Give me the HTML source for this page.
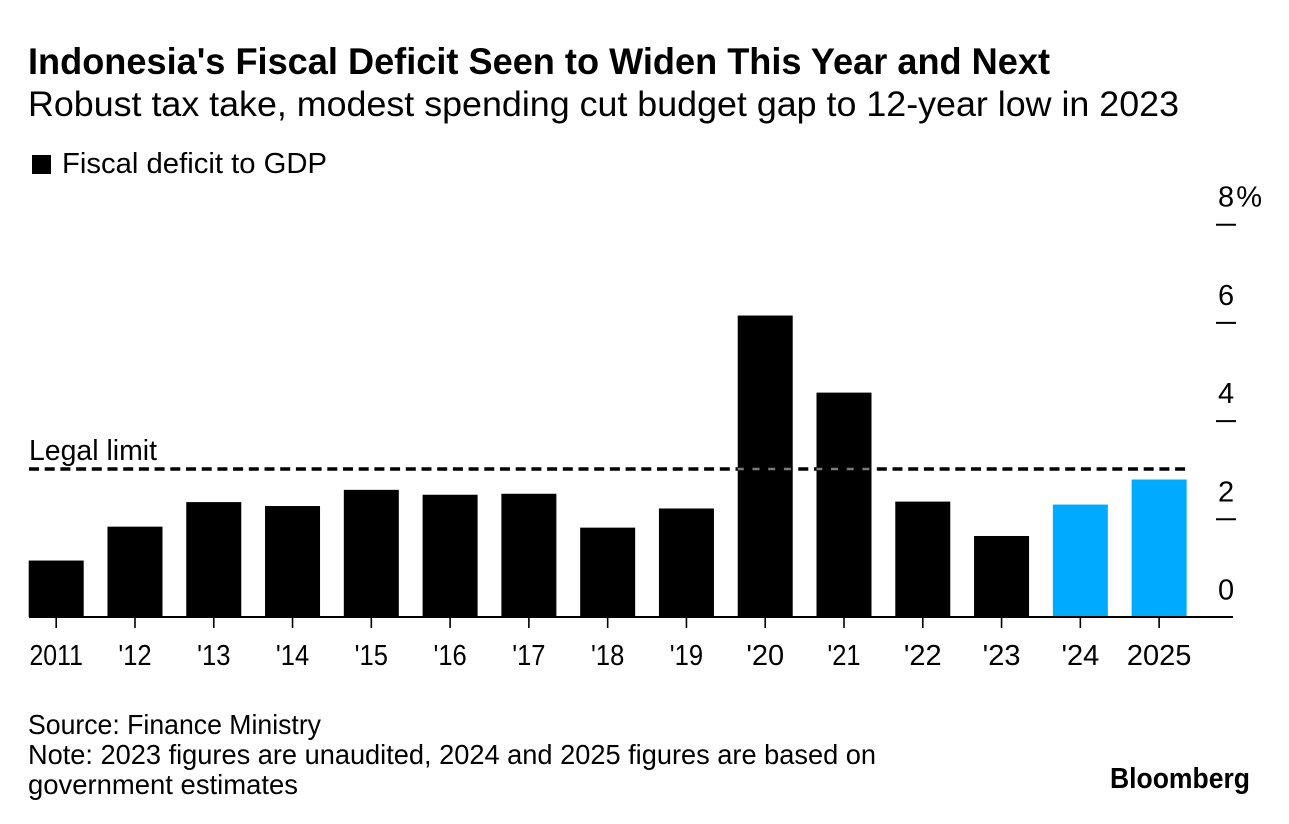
<!DOCTYPE html>
<html lang="en">
<head>
<meta charset="utf-8">
<title>Indonesia's Fiscal Deficit Seen to Widen This Year and Next</title>
<style>
html,body{margin:0;padding:0;background:#fff;}
body{width:1289px;height:824px;overflow:hidden;}
svg{display:block;}
text{font-family:"Liberation Sans",sans-serif;fill:#000;}
</style>
</head>
<body>
<svg id="chart" xmlns="http://www.w3.org/2000/svg" width="1289" height="824" viewBox="0 0 1289 824">
  <rect x="0" y="0" width="1289" height="824" fill="#fff"/>
  <text x="28" y="74" font-size="37" font-weight="700" textLength="1022" lengthAdjust="spacingAndGlyphs">Indonesia's Fiscal Deficit Seen to Widen This Year and Next</text>
  <text x="28" y="116" font-size="35" textLength="1151" lengthAdjust="spacingAndGlyphs">Robust tax take, modest spending cut budget gap to 12-year low in 2023</text>
  <rect x="32" y="155" width="19" height="19" fill="#000"/>
  <text x="62" y="173" font-size="28.5" textLength="265" lengthAdjust="spacingAndGlyphs">Fiscal deficit to GDP</text>
  <g id="bars"></g>
  <g id="limit"></g>
  <g id="y-axis"></g>
  <g id="x-axis"></g>
  <text x="29" y="460" font-size="29" textLength="128" lengthAdjust="spacingAndGlyphs">Legal limit</text>
  <text x="28" y="734" font-size="27.5" textLength="293" lengthAdjust="spacingAndGlyphs">Source: Finance Ministry</text>
  <text x="28" y="764" font-size="27.5" textLength="848" lengthAdjust="spacingAndGlyphs">Note: 2023 figures are unaudited, 2024 and 2025 figures are based on</text>
  <text x="28" y="794" font-size="27.5" textLength="270" lengthAdjust="spacingAndGlyphs">government estimates</text>
  <text x="1110" y="788" font-size="28.5" font-weight="700" textLength="140" lengthAdjust="spacingAndGlyphs">Bloomberg</text>
</svg>
<script>
const categories = ["2011", "'12", "'13", "'14", "'15", "'16", "'17", "'18", "'19", "'20", "'21", "'22", "'23", "'24", "2025"];
const deficitValues = [1.15, 1.84, 2.34, 2.26, 2.59, 2.49, 2.51, 1.82, 2.21, 6.14, 4.57, 2.35, 1.65, 2.29, 2.80];
const estimatedCategories = ["'24", "2025"];
const yTickValues = [0, 2, 4, 6, 8];
const yTickLabels = ["0", "2", "4", "6", "8%"];
const legalLimitValue = 3;

const NS = 'http://www.w3.org/2000/svg';
const yZero = 617, pxPerUnit = 49.1;
const firstBarX = 28.7, barStep = 78.78, barWidth = 55;
function yScale(v) { return yZero - v * pxPerUnit; }
function xScale(i) { return firstBarX + i * barStep; }
function make(tag, attrs, parent) {
  const el = document.createElementNS(NS, tag);
  for (const k in attrs) el.setAttribute(k, attrs[k]);
  parent.appendChild(el);
  return el;
}

const barsG = document.getElementById('bars');
const limitG = document.getElementById('limit');
const yG = document.getElementById('y-axis');
const xG = document.getElementById('x-axis');

categories.forEach(function (cat, i) {
  const top = yScale(deficitValues[i]);
  const fill = estimatedCategories.includes(cat) ? '#00aaff' : '#000';
  const bar = make('rect', { x: xScale(i), y: top, width: barWidth, height: yZero - top, fill: fill }, barsG);
  
  
});

const limitY = yScale(legalLimitValue) - 0.7;
const limitLine = make('line', { x1: 29, x2: 1186, y1: limitY, y2: limitY, stroke: '#000', 'stroke-width': 3.4, 'stroke-dasharray': '10 5.7' }, limitG);



/* the dashes show as grey where they cross a taller bar */
categories.forEach(function (cat, i) {
  if (deficitValues[i] <= legalLimitValue) return;
  const left = xScale(i);
  const phase = (left - 29) % 15.7;
  const overlay = make('line', { x1: left, x2: left + barWidth, y1: limitY, y2: limitY, stroke: '#7a7a7a', 'stroke-width': 2.4, 'stroke-dasharray': '7 8.7', 'stroke-dashoffset': phase - 1.3 }, limitG);
  
  
});

const axisLine = make('line', { x1: 29, x2: 1233, y1: yZero, y2: yZero, stroke: '#000', 'stroke-width': 2 }, xG);



categories.forEach(function (cat, i) {
  const cx = xScale(i) + barWidth / 2;
  const tick = make('line', { x1: cx, x2: cx, y1: yZero, y2: yZero + 11, stroke: '#000', 'stroke-width': 1.6 }, xG);
  
  
  const label = make('text', { x: cx, y: 665, 'font-size': 29, 'text-anchor': 'middle' }, xG);
  label.textContent = cat;
  
  
  /* the reference typeface sets the digit 1 narrower than other digits */
  const ones = (cat.match(/1/g) || []).length;
  if (ones > 0) {
    label.setAttribute('textLength', label.getComputedTextLength() - ones * 4.5);
    label.setAttribute('lengthAdjust', 'spacingAndGlyphs');
  }
});

yTickValues.forEach(function (v, i) {
  const y = yScale(v) + 0.5;
  if (v !== 0) {
    const tick = make('line', { x1: 1216, x2: 1236, y1: y, y2: y, stroke: '#000', 'stroke-width': 2 }, yG);
    
    
  }
  const label = make('text', { x: 1218, y: y - 18, 'font-size': 29 }, yG);
  label.textContent = yTickLabels[i];
  
  
  if (yTickLabels[i].length > 1) {
    label.setAttribute('textLength', 44);
    label.setAttribute('lengthAdjust', 'spacing');
  }
});
</script>
</body>
</html>
